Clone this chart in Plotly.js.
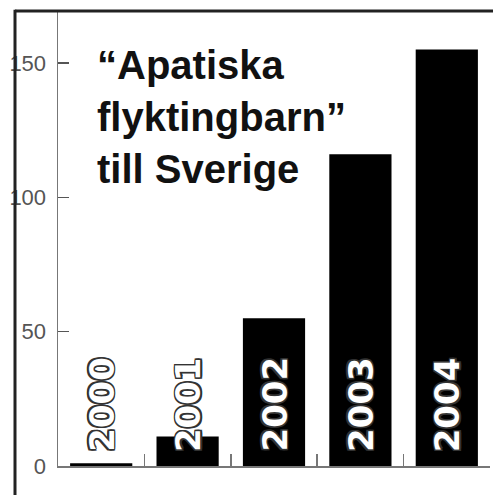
<!DOCTYPE html>
<html>
<head>
<meta charset="utf-8">
<script src="https://cdn.plot.ly/plotly-3.0.1.min.js"></script>
<style>html,body{margin:0;padding:0;background:#fff;}#chart{width:493px;height:495px;}</style>
</head>
<body>
<div id="chart"></div>
<script>
const years = ['2000', '2001', '2002', '2003', '2004'];
const counts = [1, 11, 55, 116, 155];
const yTicks = [0, 50, 100, 150];
const titleText = '“Apatiska<br>flyktingbarn”<br>till Sverige';

const bars = {
  type: 'bar',
  x: years,
  y: counts,
  marker: {color: '#000', line: {width: 0}},
  hoverinfo: 'none'
};

const labelAnnotations = years.map(function (yr, i) {
  return {
    x: i, y: 0, xref: 'x', yref: 'y',
    text: yr, showarrow: false, textangle: -90,
    xanchor: 'center', yanchor: 'bottom', yshift: 12,
    font: {family: 'DejaVu Sans', size: 34, color: '#fff', weight: 'bold',
      shadow: '-1.5px -1.5px 0 #333, 1.5px -1.5px 0 #333, -1.5px 1.5px 0 #333, 1.5px 1.5px 0 #333, 0 1.5px 0 #333, 0 -1.5px 0 #333, 1.5px 0 0 #333, -1.5px 0 0 #333'}
  };
});

const layout = {
  width: 493, height: 495,
  margin: {l: 58, r: 3, t: 11, b: 29, pad: 0},
  paper_bgcolor: '#fff', plot_bgcolor: '#fff',
  showlegend: false,
  bargap: 0.28,
  title: {
    text: titleText,
    x: 97 / 493, xref: 'container', xanchor: 'left',
    y: 0.841, yref: 'container', yanchor: 'top',
    font: {family: 'Liberation Sans, Arial', size: 40, color: '#111', weight: 'bold'}
  },
  xaxis: {
    type: 'category',
    categoryorder: 'array', categoryarray: years,
    showline: true, linecolor: '#777', linewidth: 1.5,
    ticks: 'inside', ticklen: 12, tickcolor: '#777', tickwidth: 1.5,
    tickson: 'boundaries',
    showticklabels: false, showgrid: false, zeroline: false,
    fixedrange: true
  },
  yaxis: {
    range: [0, 169.3],
    tickvals: yTicks,
    showline: true, linecolor: '#777', linewidth: 1.5,
    ticks: 'inside', ticklen: 11, tickcolor: '#555', tickwidth: 1.5,
    ticklabelstandoff: 6,
    tickfont: {family: 'Liberation Sans, Arial', size: 22, color: '#555'},
    showgrid: false, zeroline: false, fixedrange: true
  },
  annotations: labelAnnotations,
  shapes: [
    {type: 'line', xref: 'paper', yref: 'paper',
      x0: (15 - 58) / 432, x1: (493 - 58) / 432, y0: 1, y1: 1,
      line: {color: '#222', width: 3}},
    {type: 'line', xref: 'paper', yref: 'paper',
      x0: (15 - 58) / 432, x1: (15 - 58) / 432, y0: 1.003, y1: -0.07,
      line: {color: '#222', width: 3}}
  ]
};

Plotly.newPlot('chart', [bars], layout, {displayModeBar: false, staticPlot: true});
</script>
</body>
</html>
